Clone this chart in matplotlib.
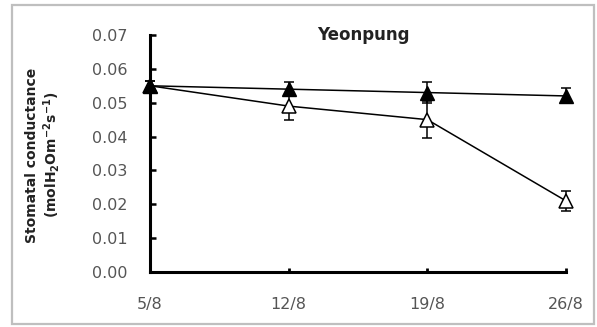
import matplotlib
matplotlib.use("Agg")
import matplotlib.pyplot as plt
from matplotlib.patches import Rectangle

dates = ["5/8", "12/8", "19/8", "26/8"]
filled_vals = [0.055, 0.054, 0.053, 0.052]
filled_err = [0.0015, 0.002, 0.003, 0.0022]
open_vals = [0.055, 0.049, 0.045, 0.021]
open_err = [0.0015, 0.004, 0.0055, 0.003]
yticks = [0.00, 0.01, 0.02, 0.03, 0.04, 0.05, 0.06, 0.07]
title = "Yeonpung"
ylabel1 = "Stomatal conductance"
ylabel2 = r"(molH$_2$Om$^{-2}$s$^{-1}$)"

plt.rcParams['mathtext.fontset'] = 'custom'
plt.rcParams['mathtext.rm'] = 'DejaVu Sans:bold'
plt.rcParams['mathtext.it'] = 'DejaVu Sans:bold'
plt.rcParams['mathtext.default'] = 'rm'

fig = plt.figure(figsize=(5.97, 3.27), dpi=100)
W, H = 597, 327
ax = fig.add_axes([150 / W, 1 - 272 / H, (566 - 150) / W, (272 - 35) / H])

x = list(range(len(dates)))
ax.errorbar(x, open_vals, yerr=open_err, color='black', lw=1.1, marker='^',
            markersize=10, markerfacecolor='white', markeredgecolor='black',
            markeredgewidth=1.1, capsize=3.5, elinewidth=1.1, capthick=1.1,
            zorder=3, clip_on=False)
ax.errorbar(x, filled_vals, yerr=filled_err, color='black', lw=1.1, marker='^',
            markersize=10, markerfacecolor='black', markeredgecolor='black',
            capsize=3.5, elinewidth=1.1, capthick=1.1, zorder=4, clip_on=False)

ax.set_xlim(0, 3)
ax.set_ylim(0, 0.07)
ax.set_xticks(x)
ax.set_xticklabels(dates)
ax.set_yticks(yticks)
ax.set_yticklabels([f"{v:.2f}" for v in yticks])
for s in ['top', 'right']:
    ax.spines[s].set_visible(False)
for s in ['left', 'bottom']:
    ax.spines[s].set_linewidth(2.2)
ax.tick_params(axis='y', direction='in', length=4, width=1.8, pad=16,
               labelsize=11.5, labelcolor='#555555')
ax.tick_params(axis='x', direction='in', length=3, width=2, pad=18,
               labelsize=11.5, labelcolor='#555555')
ax.patch.set_alpha(0)

fig.text(363 / W, 1 - 35 / H, title, ha='center', va='center',
         fontsize=12, fontweight='bold', color='#222222')
fig.text(32 / W, 1 - 155 / H, ylabel1, rotation=90, ha='center', va='center',
         fontsize=10, fontweight='bold', color='#222222')
fig.text(52 / W, 1 - 155 / H, ylabel2, rotation=90, ha='center', va='center',
         fontsize=10, fontweight='bold', color='#222222')

fig.patches.append(Rectangle((12 / W, 1 - 324 / H), (594 - 12) / W, (324 - 5) / H,
                             transform=fig.transFigure, fill=False,
                             edgecolor='#bfbfbf', linewidth=1.6))

fig.savefig("out.png", dpi=100)
